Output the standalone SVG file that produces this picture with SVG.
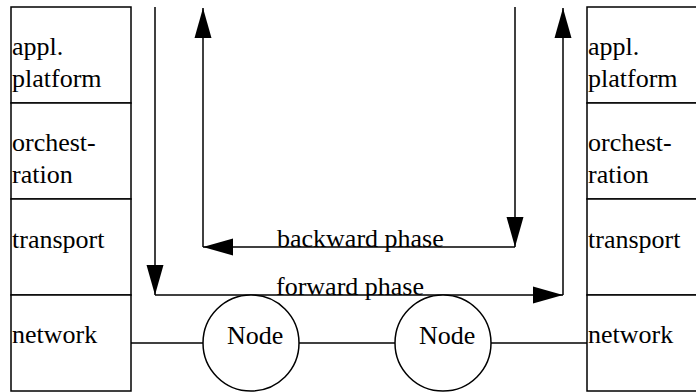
<svg xmlns="http://www.w3.org/2000/svg" width="696" height="392" viewBox="0 0 696 392">
<style>
.b{fill:#fff;stroke:#000;stroke-width:1.5}
.l{fill:none;stroke:#000;stroke-width:1.5}
.t{font-family:'Liberation Serif','Times New Roman',Times,serif;font-size:26px;fill:#000}
</style>
<defs>
<marker id="ah" markerUnits="userSpaceOnUse" markerWidth="30" markerHeight="17" refX="30" refY="8.5" orient="auto" overflow="visible">
<path d="M0,0 L30,8.5 L0,17 Z" fill="#000"/>
</marker>
</defs>
<rect width="696" height="392" fill="#fff"/>
<g id="left-stack">
<rect class="b" x="11" y="7" width="120" height="96"/>
<rect class="b" x="11" y="103" width="120" height="96"/>
<rect class="b" x="11" y="199" width="120" height="96"/>
<rect class="b" x="11" y="295" width="120" height="96"/>
<g class="t" font-family="Liberation Serif, serif">
<text x="12" y="55">appl.</text>
<text x="12" y="87">platform</text>
<text x="12" y="151">orchest-</text>
<text x="12" y="183">ration</text>
<text x="12" y="248">transport</text>
<text x="12" y="343">network</text>
</g>
</g>
<g id="right-stack">
<rect class="b" x="587" y="7" width="120" height="96"/>
<rect class="b" x="587" y="103" width="120" height="96"/>
<rect class="b" x="587" y="199" width="120" height="96"/>
<rect class="b" x="587" y="295" width="120" height="96"/>
<g class="t" font-family="Liberation Serif, serif">
<text x="588" y="55">appl.</text>
<text x="588" y="87">platform</text>
<text x="588" y="151">orchest-</text>
<text x="588" y="183">ration</text>
<text x="588" y="248">transport</text>
<text x="588" y="343">network</text>
</g>
</g>
<g id="connectors">
<line class="l" x1="131" y1="343" x2="203" y2="343"/>
<line class="l" x1="299" y1="343" x2="395" y2="343"/>
<line class="l" x1="491" y1="343" x2="587" y2="343"/>
<line class="l" x1="155" y1="7" x2="155" y2="295" marker-end="url(#ah)"/>
<line class="l" x1="155" y1="295" x2="563" y2="295" marker-end="url(#ah)"/>
<line class="l" x1="563" y1="295" x2="563" y2="8" marker-end="url(#ah)"/>
<line class="l" x1="515" y1="7" x2="515" y2="247" marker-end="url(#ah)"/>
<line class="l" x1="515" y1="247" x2="203" y2="247" marker-end="url(#ah)"/>
<line class="l" x1="203" y1="247" x2="203" y2="8" marker-end="url(#ah)"/>
<g class="t" font-family="Liberation Serif, serif">
<text x="277" y="247">backward phase</text>
<text x="276" y="295">forward phase</text>
</g>
</g>
<g id="node1">
<circle class="b" cx="251" cy="343" r="48"/>
<text class="t" x="227" y="344">Node</text>
</g>
<g id="node2">
<circle class="b" cx="443" cy="343" r="48"/>
<text class="t" x="419" y="344">Node</text>
</g>
</svg>
